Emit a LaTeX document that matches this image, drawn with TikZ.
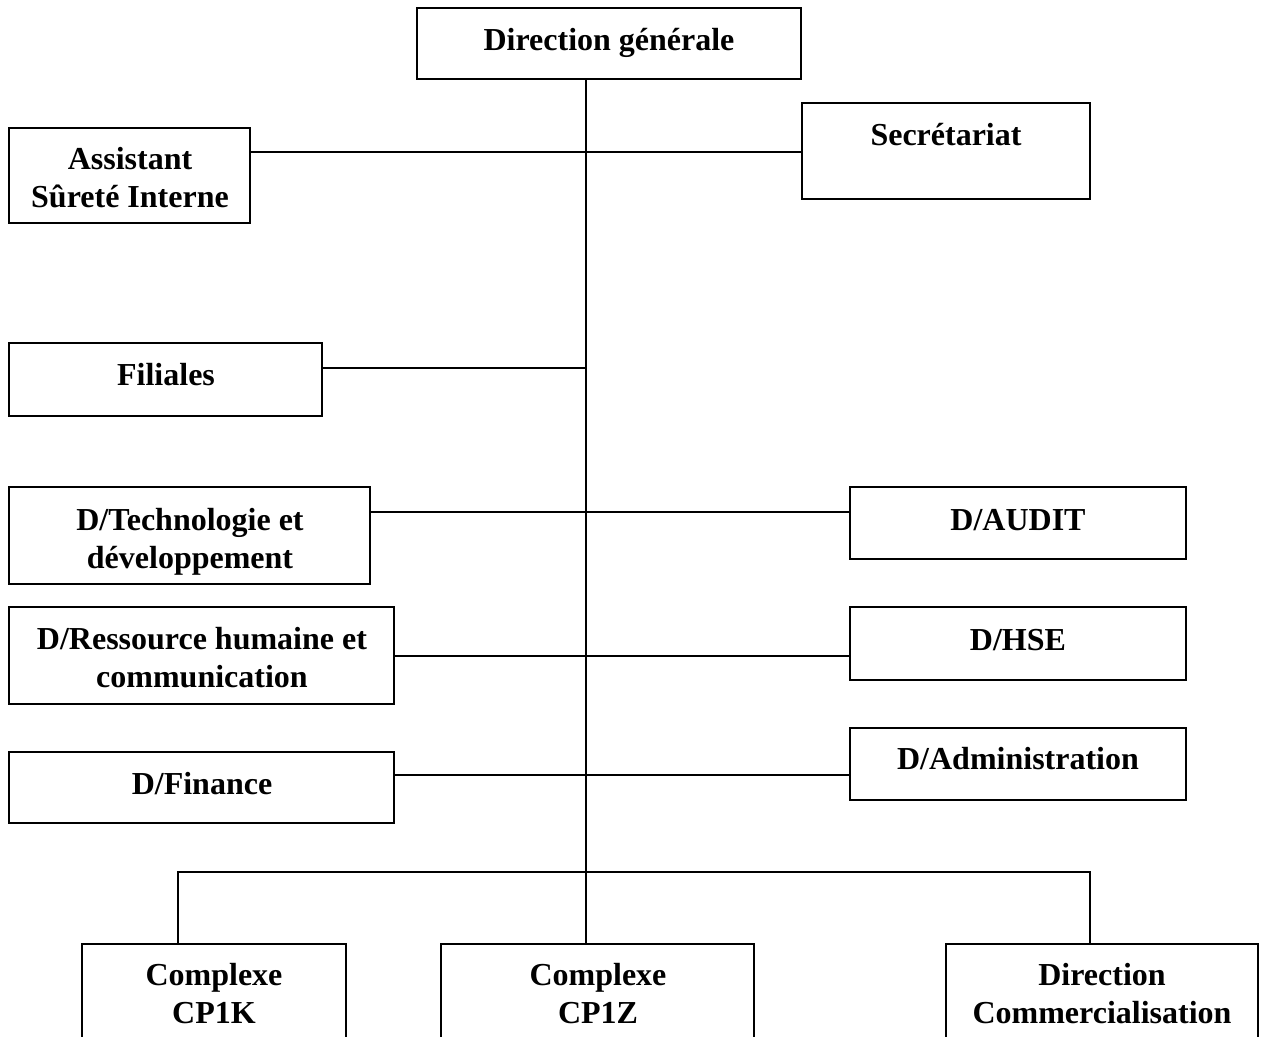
\documentclass[tikz,border=0pt]{standalone}
\usepackage{fontspec}
\setmainfont{Liberation Serif}
\usetikzlibrary{fit}
\tikzset{
  box/.style={draw=black, line width=1.2pt, inner sep=0pt, rectangle},
  lbl/.style={anchor=base, inner sep=0pt, yshift=-1pt, font=\fontsize{16}{19}\selectfont\bfseries},
  conn/.style={draw=black, line width=0.85pt},
}
\newcommand{\orgbox}[5]{\node[box, fit={(#2,#3) (#4,#5)}] (#1) {};}
\begin{document}
\begin{tikzpicture}[x=0.5pt, y=-0.5pt]
\useasboundingbox (0,0) rectangle (1263,1037);
\clip (0,0) rectangle (1263,1037);
% boxes
\orgbox{dg}{417}{8}{801}{79}
\orgbox{asst}{9}{128}{250}{223}
\orgbox{secr}{802}{103}{1090}{199}
\orgbox{fil}{9}{343}{322}{416}
\orgbox{tech}{9}{487}{370}{584}
\orgbox{audit}{850}{487}{1186}{559}
\orgbox{rh}{9}{607}{394}{704}
\orgbox{hse}{850}{607}{1186}{680}
\orgbox{fin}{9}{752}{394}{823}
\orgbox{adm}{850}{728}{1186}{800}
\orgbox{cpk}{82}{944}{346}{1060}
\orgbox{cpz}{441}{944}{754}{1060}
\orgbox{dc}{946}{944}{1258}{1060}
% labels
\node[lbl] (dg-t) at (609,49) {Direction générale};
\node[lbl] (asst-t1) at (130,168) {Assistant};
\node[lbl] (asst-t2) at (130,206) {Sûreté Interne};
\node[lbl] (secr-t) at (946,144) {Secrétariat};
\node[lbl] (fil-t) at (166,384) {Filiales};
\node[lbl] (tech-t1) at (190,528) {D/Technologie et};
\node[lbl] (tech-t2) at (190,566) {développement};
\node[lbl] (audit-t) at (1018,528) {D/AUDIT};
\node[lbl] (rh-t1) at (202,647) {D/Ressource humaine et};
\node[lbl] (rh-t2) at (202,685) {communication};
\node[lbl] (hse-t) at (1018,648) {D/HSE};
\node[lbl] (fin-t) at (202,792) {D/Finance};
\node[lbl] (adm-t) at (1018,767) {D/Administration};
\node[lbl] (cpk-t1) at (214,983) {Complexe};
\node[lbl] (cpk-t2) at (214,1021) {CP1K};
\node[lbl] (cpz-t1) at (598,983) {Complexe};
\node[lbl] (cpz-t2) at (598,1021) {CP1Z};
\node[lbl] (dc-t1) at (1102,983) {Direction};
\node[lbl] (dc-t2) at (1102,1021) {Commercialisation};
% junction coordinates
\coordinate (j1) at (586,152);
\coordinate (j2) at (586,368);
\coordinate (j3) at (586,512);
\coordinate (j4) at (586,656);
\coordinate (j5) at (586,775);
\coordinate (jb) at (586,872);
\coordinate (kl) at (178,872);
\coordinate (kr) at (1090,872);
% connectors
\draw[conn] (dg.south -| jb) -- (jb);
\draw[conn] (asst.east |- j1) -- (secr.west |- j1);
\draw[conn] (fil.east |- j2) -- (j2);
\draw[conn] (tech.east |- j3) -- (audit.west |- j3);
\draw[conn] (rh.east |- j4) -- (hse.west |- j4);
\draw[conn] (fin.east |- j5) -- (adm.west |- j5);
\draw[conn] (kl |- cpk.north) -- (kl) -- (kr) -- (kr |- dc.north);
\draw[conn] (jb) -- (jb |- cpz.north);
\end{tikzpicture}
\end{document}
